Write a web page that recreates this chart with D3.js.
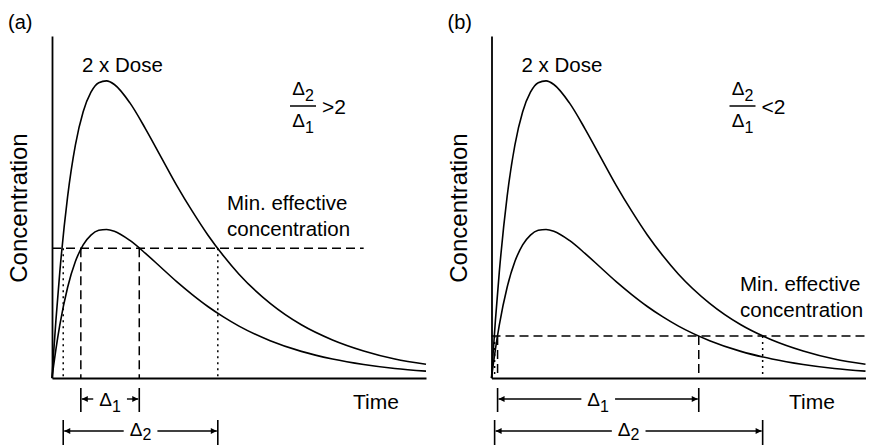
<!DOCTYPE html>
<meta charset="utf-8">
<style>
body { margin: 0; background: #fff; }
text { font-family: "Liberation Sans", Arial, sans-serif; fill: #000; }
.axis .domain { stroke: #000; stroke-width: 1.8; }
</style>
<svg width="869" height="445"></svg>
<script src="https://d3js.org/d3.v7.min.js"></script>
<script>

// time (arbitrary units) and concentration (single dose peak = 1)
var times = [0, 0.1, 0.25, 0.5, 1, 1.5, 2, 2.5, 3, 3.5, 4, 5, 6, 7, 8, 9, 10, 11, 12, 14, 16, 18, 20, 22, 24];
var dose1 = [0, 0.081, 0.193, 0.356, 0.609, 0.783, 0.895, 0.961, 0.993, 0.999, 0.987, 0.925, 0.838, 0.743, 0.648, 0.561, 0.481, 0.411, 0.349, 0.251, 0.179, 0.128, 0.091, 0.064, 0.046];
var dose2 = [0, 0.162, 0.386, 0.712, 1.218, 1.566, 1.790, 1.922, 1.986, 1.998, 1.974, 1.850, 1.676, 1.486, 1.296, 1.122, 0.962, 0.822, 0.698, 0.502, 0.358, 0.256, 0.182, 0.128, 0.092];

var panelLabels = ["(a)", "(b)"];
var ratioText = [">2", "<2"];
var mecLevels = [0.872, 0.282];
// times where the curves cross the min. effective concentration
var crossLow = [[1.85, 5.6], [0.39, 13.3]];
var crossHigh = [[0.72, 10.64], [0.2, 17.4]];
var mecEnd = [20, 24];

// layout
var layout = [
  {ox: 52,    mecX: 227, mecY: [210, 236], timeX: 353},
  {ox: 491.5, mecX: 740, mecY: [291, 317], timeX: 789}
];
var axisY = 378, axisTop = 36, axisLen = 374;

var svg = d3.select("svg");

var defs = svg.append("defs");
defs.append("marker")
    .attr("id", "arrow")
    .attr("viewBox", "0 0 10 10")
    .attr("refX", 10).attr("refY", 5)
    .attr("markerUnits", "userSpaceOnUse")
    .attr("markerWidth", 7).attr("markerHeight", 6)
    .attr("orient", "auto")
  .append("path")
    .attr("d", "M0,0L10,5L0,10z")
    .attr("fill", "#000");

var x = d3.scaleLinear().domain([0, 24]).range([0, axisLen]);
var y = d3.scaleLinear().domain([0, 2.3]).range([axisY, axisTop]);

function bracket(g, xa, xb, yMid, yTop, yBot, sub, base) {
  g.append("line").attr("x1", xa).attr("x2", xa).attr("y1", yTop).attr("y2", yBot)
      .attr("stroke", "#000").attr("stroke-width", 1.6);
  g.append("line").attr("x1", xb).attr("x2", xb).attr("y1", yTop).attr("y2", yBot)
      .attr("stroke", "#000").attr("stroke-width", 1.6);
  var lbl = g.append("text")
      .attr("x", (xa + xb) / 2)
      .attr("y", yMid + base)
      .attr("text-anchor", "middle")
      .style("font-size", "19px");
  lbl.append("tspan").text("\u0394");
  lbl.append("tspan").attr("dy", base - 1).style("font-size", "16px").text(sub);
  var bb = lbl.node().getBBox();
  g.append("line").attr("x1", bb.x - 6).attr("x2", xa + 1).attr("y1", yMid).attr("y2", yMid)
      .attr("stroke", "#000").attr("stroke-width", 1.4).attr("marker-end", "url(#arrow)");
  g.append("line").attr("x1", bb.x + bb.width + 6).attr("x2", xb - 1).attr("y1", yMid).attr("y2", yMid)
      .attr("stroke", "#000").attr("stroke-width", 1.4).attr("marker-end", "url(#arrow)");
}

var line1 = d3.line()
    .x(function(d, i) { return x(times[i]); })
    .y(function(d) { return y(d); })
    .curve(d3.curveMonotoneX);

panelLabels.forEach(function(label, p) {
  var L = layout[p];
  var g = svg.append("g").attr("transform", "translate(" + L.ox + ",0)");

  svg.append("text")
      .attr("x", L.ox - 44).attr("y", 29)
      .style("font-size", "20px")
      .text(label);

  // curves
  [dose1, dose2].forEach(function(s) {
    g.append("path")
        .attr("d", line1(s))
        .attr("fill", "none")
        .attr("stroke", "#000")
        .attr("stroke-width", 1.6);
  });

  // min effective concentration
  var my = y(mecLevels[p]);
  g.append("line")
      .attr("x1", 0).attr("x2", x(mecEnd[p]))
      .attr("y1", my).attr("y2", my)
      .attr("stroke", "#000").attr("stroke-width", 1.5)
      .attr("stroke-dasharray", "9,5");

  crossLow[p].forEach(function(t) {
    g.append("line")
        .attr("x1", x(t)).attr("x2", x(t)).attr("y1", my).attr("y2", axisY)
        .attr("stroke", "#000").attr("stroke-width", 1.5)
        .attr("stroke-dasharray", "9,5");
  });
  crossHigh[p].forEach(function(t) {
    g.append("line")
        .attr("x1", x(t)).attr("x2", x(t)).attr("y1", my).attr("y2", axisY)
        .attr("stroke", "#000").attr("stroke-width", 1.5)
        .attr("stroke-dasharray", "2,4");
  });

  // axes, no ticks
  g.append("g")
      .attr("class", "axis")
      .attr("transform", "translate(0," + axisY + ")")
      .call(d3.axisBottom(x).tickValues([]).tickSizeOuter(0));
  g.append("g")
      .attr("class", "axis")
      .call(d3.axisLeft(y).tickValues([]).tickSizeOuter(0));

  // texts
  g.append("text")
      .attr("transform", "translate(-25," + ((axisY + axisTop) / 2 + 1) + ") rotate(-90)")
      .attr("text-anchor", "middle")
      .style("font-size", "24px")
      .text("Concentration");

  svg.append("text")
      .attr("x", L.timeX).attr("y", 409)
      .style("font-size", "21px")
      .text("Time");

  g.append("text")
      .attr("x", 30).attr("y", 72)
      .style("font-size", "20.5px")
      .text("2 x Dose");

  svg.append("text").attr("x", L.mecX).attr("y", L.mecY[0])
      .style("font-size", "20.5px").text("Min. effective");
  svg.append("text").attr("x", L.mecX).attr("y", L.mecY[1])
      .style("font-size", "20.5px").text("concentration");

  // fraction
  var fx = 251;
  var num = g.append("text").attr("x", fx).attr("y", 95).attr("text-anchor", "middle")
      .style("font-size", "19px");
  num.append("tspan").text("\u0394");
  num.append("tspan").attr("dy", 6).style("font-size", "16px").text("2");
  var den = g.append("text").attr("x", fx).attr("y", 127).attr("text-anchor", "middle")
      .style("font-size", "19px");
  den.append("tspan").text("\u0394");
  den.append("tspan").attr("dy", 6).style("font-size", "16px").text("1");
  g.append("line").attr("x1", fx - 13).attr("x2", fx + 13).attr("y1", 106).attr("y2", 106)
      .attr("stroke", "#000").attr("stroke-width", 1.5);
  g.append("text").attr("x", fx + 19).attr("y", 114)
      .style("font-size", "21px").text(ratioText[p]);

  // brackets below axis
  bracket(g, x(crossLow[p][0]), x(crossLow[p][1]), 399, 388, 412, "1", 7);
  bracket(g, x(crossHigh[p][0]), x(crossHigh[p][1]), 431, 420, 448, "2", 5);
});

</script>
